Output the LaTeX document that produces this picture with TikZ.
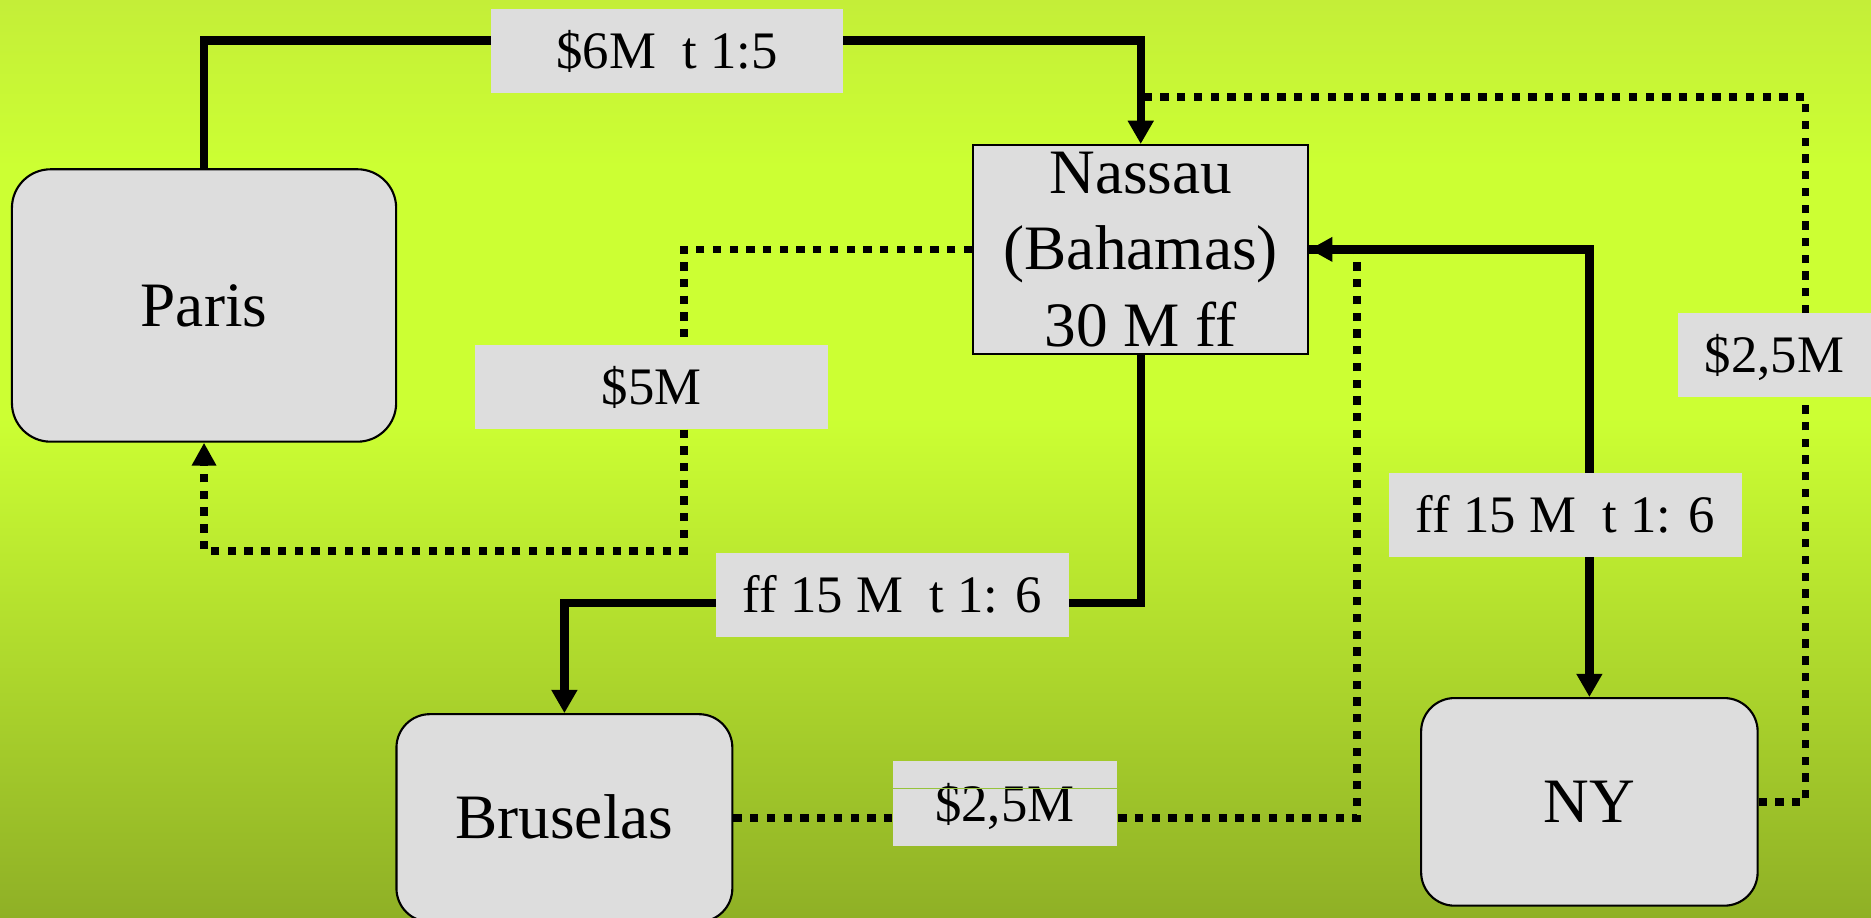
\documentclass[tikz,border=0pt]{standalone}
\usepackage{fontspec}
\setmainfont{Liberation Serif}
\usetikzlibrary{arrows.meta}
\definecolor{bgtop}{RGB}{196,238,56}
\definecolor{bgmid}{RGB}{204,255,51}
\definecolor{bgbot}{RGB}{143,176,38}
\definecolor{boxgray}{RGB}{221,221,221}
\definecolor{seam}{RGB}{150,195,60}
\pgfdeclareverticalshading{bgshade}{100bp}{color(0bp)=(bgbot); color(25bp)=(bgbot); color(52.3bp)=(bgmid); color(65.9bp)=(bgmid); color(75bp)=(bgtop); color(100bp)=(bgtop)}
\def\u{0.3395pt}
\begin{document}
\begin{tikzpicture}[x=0.3395pt, y=-0.3395pt,
  city/.style={draw=black, line width=0.6pt, fill=boxgray, rounded corners=9.5pt, inner sep=0pt,
    font=\fontsize{18pt}{21.8pt}\selectfont, text height=11.9pt, text depth=0pt},
  hub/.style={draw=black, line width=0.6pt, fill=boxgray, inner sep=0pt, align=center,
    font=\fontsize{18pt}{21.8pt}\selectfont},
  lab/.style={fill=boxgray, inner sep=0pt, font=\fontsize{15pt}{18pt}\selectfont,
    text height=10pt, text depth=0pt},
  flow/.style={line width=2.4pt, -{Triangle[length=6.6pt,width=7pt]}},
  money/.style={line width=2.2pt, dash pattern=on 2.36pt off 2.4pt},
  moneyarrow/.style={money, -{Triangle[length=6.5pt,width=6.6pt]}}
]
\useasboundingbox (0,0) rectangle (1568,769.3);
\shade[shading=bgshade] (0,0) rectangle (1568,769.3);

% nodes
\node[city, rounded corners=11pt, minimum width={322*\u}, minimum height={228.3*\u}] (paris) at (171,256) {Paris};
\node[hub, minimum width={281*\u}, minimum height={175*\u}] (nassau) at (956,209) {Nassau\\(Bahamas)\\30 M ff};
\node[city, minimum width={281.5*\u}, minimum height={174*\u}] (bruselas) at (473,685.5) {Bruselas};
\node[city, minimum width={282*\u}, minimum height={174*\u}] (ny) at (1332,672) {NY};

% helper coordinates
\coordinate (c1) at (956,34);
\coordinate (c2a) at (1513,81);
\coordinate (c2b) at (956,81);
\coordinate (c3) at (573,461.5);
\coordinate (c4) at (473,505.5);
\coordinate (c5) at (1137.5,209);

% solid flows
\draw[flow] (nassau.east) -| (ny.north);
\draw[flow] (nassau.south) |- (c4) -- (bruselas.north);
\draw[flow] (paris.north) |- (c1) -- (nassau.north);

% dotted flows
\draw[moneyarrow] (bruselas.east) -| (c5) -- (nassau.east);
\draw[money] (ny.east) -| (c2a) -- (c2b);
\draw[moneyarrow] (nassau.west) -| (c3) -| (paris.south);

% labels
\node[lab, minimum width={295.4*\u}, minimum height={70*\u}] (l1) at (559,42.7) {\$6M\ \ t 1:5};
\node[lab, minimum width={296*\u}, minimum height={70*\u}] (l2) at (546,324.3) {\$5M};
\node[lab, minimum width={296*\u}, minimum height={70*\u}] (l3) at (748,498.7) {ff 15 M\ \ t 1: 6};
\node[lab, minimum width={296*\u}, minimum height={70*\u}] (l4) at (1312,431.5) {ff 15 M\ \ t 1: 6};
\node[lab, minimum width={162*\u}, minimum height={70*\u}] (l5) at (1487,297.5) {\$2,5M};
\node[lab, minimum width={188*\u}, minimum height={71*\u}] (l6) at (842,673.5) {\$2,5M};
\draw[seam, line width=0.35pt] (l6.west |- 0,661) -- (l6.east |- 0,661);
\end{tikzpicture}
\end{document}
